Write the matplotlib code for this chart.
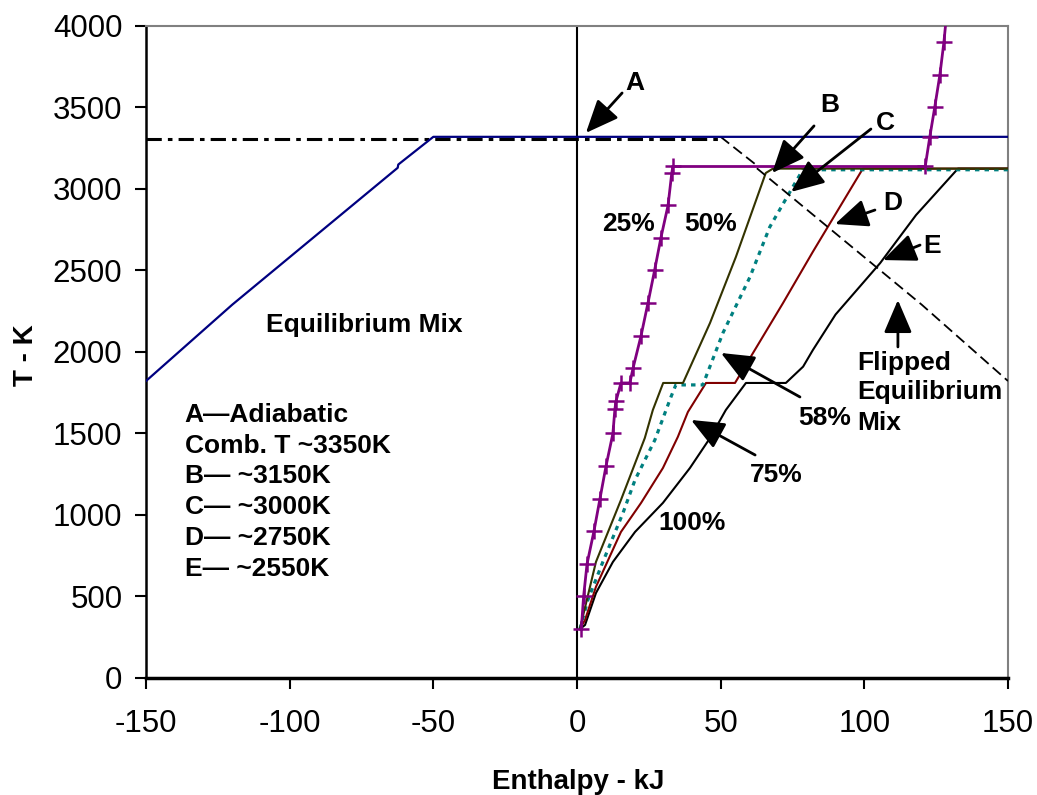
import matplotlib
matplotlib.use("Agg")
import matplotlib.pyplot as plt

plt.rcParams['font.family'] = ['Liberation Sans', 'DejaVu Sans']
plt.rcParams['axes.unicode_minus'] = False

# ---------------- data ----------------
# Equilibrium mix (blue)
x_eq = [-150, -120, -62.4, -62.2, -50, 150]
y_eq = [1822, 2290, 3130, 3150, 3320, 3320]

# Flipped equilibrium mix (mirror of the rising part)
x_flip = [50, 62.2, 62.4, 120, 150]
y_flip = [3320, 3150, 3130, 2290, 1822]

# Adiabatic combustion temperature line (dash-dot)
x_adiab = [-150, 50]
y_adiab = [3308, 3308]

# 25 % (purple, + markers)
x25 = [1.5, 2.3, 3.5, 5.9, 8.0, 10.1, 12.5, 13.2, 13.6, 15.3, 18.4, 19.5, 22.3,
       24.7, 27.0, 29.2, 31.7, 33.0, 33.4, 121.2, 122.8, 124.5, 126.3, 127.7, 128.8]
y25 = [300, 500, 700, 900, 1100, 1300, 1500, 1650, 1700, 1810, 1810, 1900, 2100,
       2300, 2500, 2700, 2900, 3100, 3138, 3138, 3320, 3500, 3700, 3900, 4100]

# 50 % (dark olive)
x50 = [1.0, 6.6, 15.3, 23.6, 26.4, 30.0, 36.9, 46.3, 55.3, 65.7, 68.2, 150]
y50 = [300, 712, 1092, 1472, 1644, 1810, 1810, 2178, 2583, 3098, 3125, 3125]

# 58 % (teal dotted)
x58 = [1.0, 3.8, 9.0, 16.0, 20.2, 27.1, 32.7, 34.4, 43.8, 50.8, 60.2, 67.1, 75.1, 78.6, 150]
y58 = [300, 479, 712, 1012, 1215, 1460, 1724, 1798, 1798, 2117, 2460, 2767, 3012, 3118, 3118]

# 75 % (dark red)
x75 = [1.0, 2.8, 6.6, 15.3, 22.3, 29.9, 35.1, 38.6, 44.9, 55.0, 71.7, 82.1, 99.5, 150]
y75 = [300, 356, 559, 896, 1074, 1288, 1479, 1632, 1810, 1810, 2300, 2615, 3125, 3125]

# 100 % (black)
x100 = [1.0, 2.8, 6.6, 12.5, 20.2, 29.9, 39.3, 46.3, 51.8, 58.8, 72.7, 78.7, 82.1,
        90.0, 105.5, 118.0, 132.6, 150]
y100 = [300, 325, 521, 712, 896, 1074, 1288, 1472, 1644, 1810, 1810, 1910, 2012,
        2230, 2545, 2840, 3125, 3125]

x_ticks = [-150, -100, -50, 0, 50, 100, 150]
y_ticks = [0, 500, 1000, 1500, 2000, 2500, 3000, 3500, 4000]

legend_lines = ["A\u2014Adiabatic", "Comb. T ~3350K", "B\u2014 ~3150K",
                "C\u2014 ~3000K", "D\u2014 ~2750K", "E\u2014 ~2550K"]

# ---------------- figure ----------------
fig = plt.figure(figsize=(10.37, 7.95), dpi=100)
ax = fig.add_axes([0.1408, 0.1472, 0.8312, 0.8201])

ax.plot(x100, y100, color='#000000', lw=1.5, zorder=3)
ax.plot(x75, y75, color='#800000', lw=1.5, zorder=3)
ax.plot(x58, y58, color='#008080', lw=2.3, dashes=(1.4, 1.6),
        dash_capstyle='butt', zorder=3)
ax.plot(x50, y50, color='#333300', lw=1.5, zorder=3)
ax.plot(x_flip, y_flip, color='black', lw=1.3, dashes=(6, 3), zorder=3)
ax.plot(x_adiab, y_adiab, color='black', lw=2.2, dashes=(5, 2, 1.5, 2), zorder=3)
ax.plot(x_eq, y_eq, color='#000080', lw=1.6, zorder=4)
ax.plot(x25, y25, color='#800080', lw=2.0, marker='+', markersize=12,
        markeredgewidth=1.8, zorder=5, clip_on=True)
ax.plot([0, 0], [0, 4000], color='black', lw=1.5, zorder=2)

ax.set_xlim(-150, 150)
ax.set_ylim(0, 4000)
ax.set_xticks(x_ticks)
ax.set_yticks(y_ticks)
ax.set_xticklabels([str(v) for v in x_ticks])
ax.set_yticklabels([str(v) for v in y_ticks])
ax.tick_params(axis='both', direction='out', length=8, width=1.5, labelsize=22.5)
ax.tick_params(axis='x', pad=14)
ax.tick_params(axis='y', pad=9)

for s in ['top', 'right']:
    ax.spines[s].set_color('#808080')
    ax.spines[s].set_linewidth(1.5)
ax.spines['left'].set_linewidth(1.8)
ax.spines['bottom'].set_linewidth(2.5)

fig.text(578 / 1037, 1 - 789 / 795, "Enthalpy - kJ", ha='center', va='baseline',
         fontsize=20, fontweight='bold')
fig.text(26 / 1037, 1 - 355 / 795, "T - K", ha='center', va='center',
         rotation=90, fontsize=20, fontweight='bold')

tkw = dict(fontsize=19, fontweight='bold', va='baseline', zorder=6)
ax.text(-74, 2123, "Equilibrium Mix", ha='center', **tkw)
base = 1572
for i, line in enumerate(legend_lines):
    ax.text(-136.5, base - 189 * i, line, ha='left', **tkw)

ax.text(8.6, 2742, "25%", **tkw)
ax.text(37.3, 2742, "50%", **tkw)
ax.text(28.4, 908, "100%", **tkw)
ax.text(60.2, 1202, "75%", **tkw)
ax.text(77.0, 1552, "58%", **tkw)
ax.text(97.6, 1890, "Flipped", **tkw)
ax.text(97.6, 1712, "Equilibrium", **tkw)
ax.text(97.6, 1521, "Mix", **tkw)
ax.text(17.0, 3607, "A", **tkw)
ax.text(84.6, 3472, "B", **tkw)
ax.text(104.0, 3362, "C", **tkw)
ax.text(106.5, 2871, "D", **tkw)
ax.text(120.4, 2607, "E", **tkw)

akw = dict(arrowstyle='-|>,head_length=0.75,head_width=0.32', lw=2, color='black',
           shrinkA=0, shrinkB=0, mutation_scale=27)
arrows = [((15.7, 3589), (3.1, 3344)),
          ((82.5, 3387), (67.9, 3098)),
          ((102.3, 3368), (74.5, 2982)),
          ((103.7, 2871), (89.8, 2785)),
          ((119.4, 2656), (106.5, 2564)),
          ((111.7, 2031), (111.7, 2319)),
          ((77.6, 1724), (50.1, 1994)),
          ((62.0, 1368), (39.7, 1583))]
for tail, tip in arrows:
    ax.annotate("", xy=tip, xytext=tail, arrowprops=akw, zorder=6)

fig.savefig("out.png", dpi=100)
